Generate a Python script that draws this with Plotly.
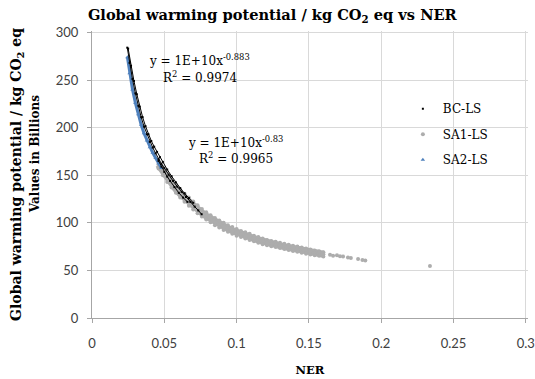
import plotly.graph_objects as go

# ---------------- data (values in billions) ----------------
# BC-LS : three closely spaced curves
bc_x1 = [0.0244, 0.026, 0.028, 0.030, 0.032, 0.034, 0.036, 0.038, 0.040, 0.042, 0.044, 0.046,
         0.048, 0.050, 0.053, 0.056, 0.059, 0.062, 0.065, 0.068, 0.071, 0.0735, 0.0758]
bc_y1 = [284, 268, 251, 236, 223, 211, 201, 193, 185, 179, 173, 167,
         162, 157.5, 150.5, 144, 138, 132.5, 127, 122, 117, 113, 109]
bc_x2 = [0.0250, 0.027, 0.029, 0.031, 0.033, 0.035, 0.037, 0.039, 0.041, 0.043, 0.045, 0.047,
         0.049, 0.052, 0.055, 0.058, 0.061, 0.064, 0.067, 0.070]
bc_y2 = [283, 265, 249, 235, 222, 211, 201.5, 193, 186, 180, 174.5, 169,
         164, 156, 149, 142.5, 136.5, 131, 126, 121]
bc_x3 = [0.046, 0.048, 0.050, 0.052, 0.054, 0.057, 0.060, 0.063, 0.066]
bc_y3 = [165, 159, 153.5, 148.5, 144, 137.5, 131.5, 126.5, 122]

# SA1-LS : broad grey band (upper / middle / lower edge readings) plus sparse tail
sa1_x = [0.046, 0.049, 0.052, 0.055, 0.058, 0.061, 0.064, 0.067, 0.070, 0.073, 0.076, 0.079,
         0.082, 0.085, 0.088, 0.091, 0.094, 0.097, 0.100, 0.103, 0.106, 0.109, 0.112, 0.115,
         0.118, 0.121, 0.124, 0.127, 0.130, 0.133, 0.136, 0.139, 0.142, 0.145, 0.148, 0.151,
         0.154, 0.157, 0.160]
sa1_y_up = [165, 158.5, 151.5, 145.5, 140, 135, 130.5, 126.5, 122.5, 118.5, 114.5, 111,
            108, 105, 102.5, 100, 97.5, 95.5, 93.5, 91.5, 90, 88.5, 86.5, 85,
            83.5, 82, 81, 80, 79, 78, 77, 76, 75, 74, 73, 72,
            71, 70, 69]
sa1_y_mid = [161, 154, 147, 141, 135.5, 130.5, 126, 122, 118, 114, 110.5, 107,
             104, 101, 98.5, 96, 94, 92, 90, 88, 86.5, 85, 83.5, 82,
             80.5, 79, 78, 77, 76, 75, 74, 73, 72, 71, 70, 69.3,
             68.6, 67.8, 67]
sa1_y_lo = [157, 150, 143, 137, 131.5, 126.5, 122, 118, 114, 110, 106.5, 103.5,
            100.5, 97.5, 95, 92.5, 90.5, 88.5, 86.5, 85, 83.5, 82, 80.5, 79,
            77.5, 76.5, 75.5, 74.5, 73.5, 72.5, 71.5, 70.5, 69.5, 68.5, 67.5, 66.8,
            66, 65.3, 64.5]
sa1_tail_x = [0.1646, 0.1667, 0.1694, 0.1715, 0.1736, 0.1770, 0.1790, 0.1840, 0.1870, 0.1890, 0.2337]
sa1_tail_y = [66.5, 65.5, 66, 65, 64.5, 63.5, 63, 62, 61, 60.5, 54.5]

# SA2-LS : narrow blue band
sa2_x = [0.0245, 0.026, 0.028, 0.030, 0.032, 0.034, 0.036, 0.038, 0.040, 0.042, 0.044, 0.046, 0.048]
sa2_y = [274, 257, 240, 226, 214, 203, 194, 186.5, 179.5, 173.5, 168, 162.5, 157.5]

eq1 = "y = 1E+10x<sup>-0.883</sup>"
r1 = "R<sup>2</sup> = 0.9974"
eq2 = "y = 1E+10x<sup>-0.83</sup>"
r2 = "R<sup>2</sup> = 0.9965"

x_ticks = [0, 0.05, 0.1, 0.15, 0.2, 0.25, 0.3]
x_tick_text = ["0", "0.05", "0.1", "0.15", "0.2", "0.25", "0.3"]
y_ticks = [0, 50, 100, 150, 200, 250, 300]

BLACK = "#000000"
GREY = "#ADADAD"
BLUE = "#4F81BD"
SERIF = "DejaVu Serif"

fig = go.Figure()

# grey band (drawn first, underneath)
fig.add_trace(go.Scatter(x=sa1_x, y=sa1_y_mid, mode="lines", showlegend=False, legendgroup="sa1",
                         line=dict(color=GREY, width=7), hoverinfo="skip"))
sa1_all_x = sa1_x + sa1_x + sa1_x + sa1_tail_x
sa1_all_y = sa1_y_up + sa1_y_mid + sa1_y_lo + sa1_tail_y
fig.add_trace(go.Scatter(x=sa1_all_x, y=sa1_all_y, mode="markers", name="SA1-LS",
                         legendgroup="sa1", legendrank=2,
                         marker=dict(symbol="circle", size=4, color=GREY)))

# blue band
fig.add_trace(go.Scatter(x=sa2_x, y=sa2_y, mode="lines", showlegend=False, legendgroup="sa2",
                         line=dict(color=BLUE, width=3), hoverinfo="skip"))
fig.add_trace(go.Scatter(x=sa2_x, y=sa2_y, mode="markers", name="SA2-LS",
                         legendgroup="sa2", legendrank=3,
                         marker=dict(symbol="triangle-up", size=4, color=BLUE)))

# black curves
bc_lx = bc_x1 + [None] + bc_x2 + [None] + bc_x3
bc_ly = bc_y1 + [None] + bc_y2 + [None] + bc_y3
fig.add_trace(go.Scatter(x=bc_lx, y=bc_ly, mode="lines", showlegend=False, legendgroup="bc",
                         line=dict(color=BLACK, width=1), hoverinfo="skip"))
fig.add_trace(go.Scatter(x=bc_x1 + bc_x2 + bc_x3, y=bc_y1 + bc_y2 + bc_y3, mode="markers",
                         name="BC-LS", legendgroup="bc", legendrank=1,
                         marker=dict(symbol="square", size=2, color=BLACK)))

ann_font = dict(family=SERIF, size=12, color="#000000")
annotations = [
    dict(x=0.074, y=270.6, xref="x", yref="y", text=eq1, showarrow=False, font=ann_font),
    dict(x=0.0747, y=252.8, xref="x", yref="y", text=r1, showarrow=False, font=ann_font),
    dict(x=0.0995, y=184.6, xref="x", yref="y", text=eq2, showarrow=False, font=ann_font),
    dict(x=0.0995, y=167.8, xref="x", yref="y", text=r2, showarrow=False, font=ann_font),
    dict(x=-0.129, y=0.57, xref="paper", yref="paper", text="<b>Values in Billions</b>",
         xanchor="center", yanchor="middle",
         textangle=-90, showarrow=False, font=dict(family=SERIF, size=12, color="#000000")),
]

tick_font = dict(family="Lato", size=13, color="#404040")

fig.update_layout(
    width=535, height=379,
    margin=dict(l=92, r=7, t=31, b=61),
    paper_bgcolor="white", plot_bgcolor="white",
    title=dict(text="<b>Global warming potential / kg CO<sub>2</sub> eq vs NER</b>",
               x=0.509, xanchor="center", y=0.962, yanchor="middle",
               font=dict(family=SERIF, size=14.6, color="#000000")),
    xaxis=dict(range=[0, 0.3015], tickvals=x_ticks, ticktext=x_tick_text,
               showgrid=True, gridcolor="#D9D9D9", gridwidth=1,
               showline=True, linecolor="#A6A6A6", linewidth=1,
               ticks="outside", ticklen=4, tickcolor="#A6A6A6", ticklabelstandoff=9,
               zeroline=False, tickfont=tick_font, automargin=False,
               title=dict(text="<b>NER</b>", font=dict(family=SERIF, size=11.5, color="#000000"),
                          standoff=16)),
    yaxis=dict(range=[0, 301.5], tickvals=y_ticks,
               showgrid=True, gridcolor="#D9D9D9", gridwidth=1,
               showline=True, linecolor="#A6A6A6", linewidth=1,
               ticks="outside", ticklen=4, tickcolor="#A6A6A6", ticklabelstandoff=6,
               zeroline=False, tickfont=tick_font, automargin=False,
               title=dict(text="<b>Global warming potential / kg CO<sub>2</sub> eq</b>",
                          font=dict(family=SERIF, size=14, color="#000000"), standoff=30)),
    legend=dict(x=0.713, xanchor="left", y=0.78, yanchor="top",
                font=dict(family=SERIF, size=12, color="#000000"),
                bgcolor="rgba(0,0,0,0)", tracegroupgap=6.5, itemwidth=30),
    annotations=annotations,
    showlegend=True,
)

fig.write_html("out.html")
